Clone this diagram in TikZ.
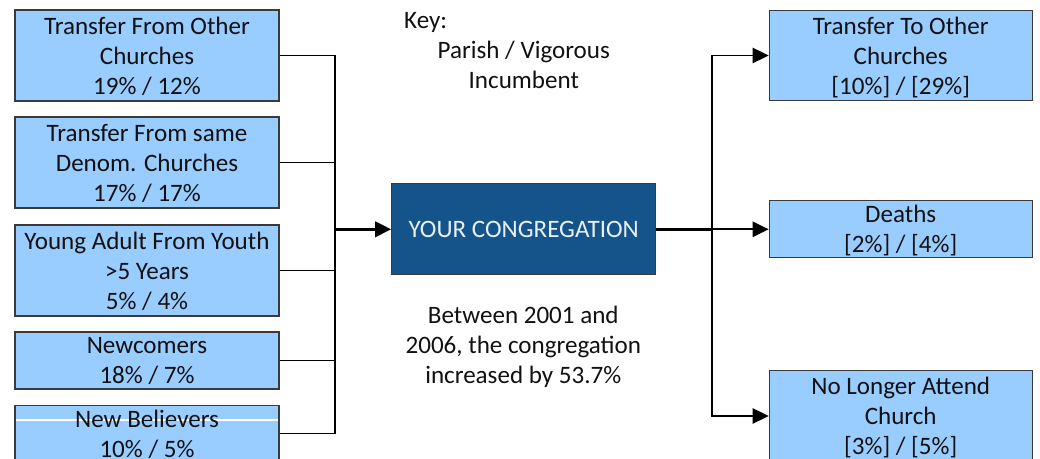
\documentclass[tikz,border=0pt]{standalone}
\usepackage{fontspec}
\setmainfont{Carlito}
\usetikzlibrary{arrows.meta}
\definecolor{boxfill}{HTML}{99CCFF}
\definecolor{boxline}{HTML}{3A3A3A}
\definecolor{congfill}{HTML}{14548A}
\definecolor{congtext}{HTML}{E8F0F8}
\definecolor{txt}{HTML}{111111}
\begin{document}
\begin{tikzpicture}[x=0.75pt,y=-0.75pt,
  every node/.style={font=\fontsize{18.8}{22.5}\selectfont, text=txt},
  flowbox/.style={draw=boxline, line width=0.8pt, fill=boxfill, inner sep=0pt, minimum width=198pt, align=center, text depth=0pt},
  rbox/.style={flowbox, minimum width=197.25pt},
  conn/.style={line width=1.2pt, draw=black},
  trunk/.style={line width=2pt, draw=black},
  tip/.style={-{Triangle[length=12pt,width=11.5pt]}}
]
\useasboundingbox (0,0) rectangle (1040,459);

% left boxes
\node[flowbox, minimum height=68.25pt] (b1) at (147,55.5) {Transfer From Other\\Churches\\19\% / 12\%};
\node[flowbox, minimum height=68.25pt] (b2) at (147,162.5) {Transfer From same\\Denom. Churches\\17\% / 17\%};
\node[flowbox, minimum height=68.25pt] (b3) at (147,270.5) {Young Adult From Youth\\>5 Years\\5\% / 4\%};
\node[flowbox, minimum height=42.75pt] (b4) at (147,360.5) {Newcomers\\18\% / 7\%};
\node[flowbox, minimum height=42pt,
  path picture={\draw[white, line width=0.8pt] ([yshift=10.1pt]path picture bounding box.west) -- ([yshift=10.1pt]path picture bounding box.east);}] (b5) at (147,433.5) {New Believers\\10\% / 5\%};

% centre
\node[draw=boxline, line width=0.8pt, fill=congfill, text=congtext, inner sep=0pt, minimum width=198pt, minimum height=68.5pt] (cong) at (523.7,229.3) {YOUR CONGREGATION};

% right boxes
\node[rbox, minimum height=67.5pt] (r1) at (900.7,55.5) {Transfer To Other\\Churches\\{[}10\%{]} / {[}29\%{]}};
\node[rbox, minimum height=42.5pt] (r2) at (900.7,229.3) {Deaths\\{[}2\%{]} / {[}4\%{]}};
\node[rbox, minimum height=68.25pt] (r3) at (900.7,416) {No Longer Attend\\Church\\{[}3\%{]} / {[}5\%{]}};

% texts
\node[anchor=base west] (key) at (399.5,28.3) {Key:};
\node[align=center] (keytxt) at (523.8,65) {Parish / Vigorous\\Incumbent};
\node[align=center] (note) at (523.3,346.5) {Between 2001 and\\2006, the congregation\\increased by 53.7\%};

% connectors
\coordinate (busL) at (335,229.3);
\coordinate (busR) at (711.7,229.3);
\foreach \b in {b1,b2,b3,b4,b5}
  \draw[conn] (\b.east) -| (busL);
\draw[trunk, tip] (busL) -- (cong.west);
\draw[trunk] (cong.east) -- (busR);
\foreach \r in {r1,r2,r3}
  \draw[conn, tip] (busR) |- (\r.west);
\end{tikzpicture}
\end{document}
